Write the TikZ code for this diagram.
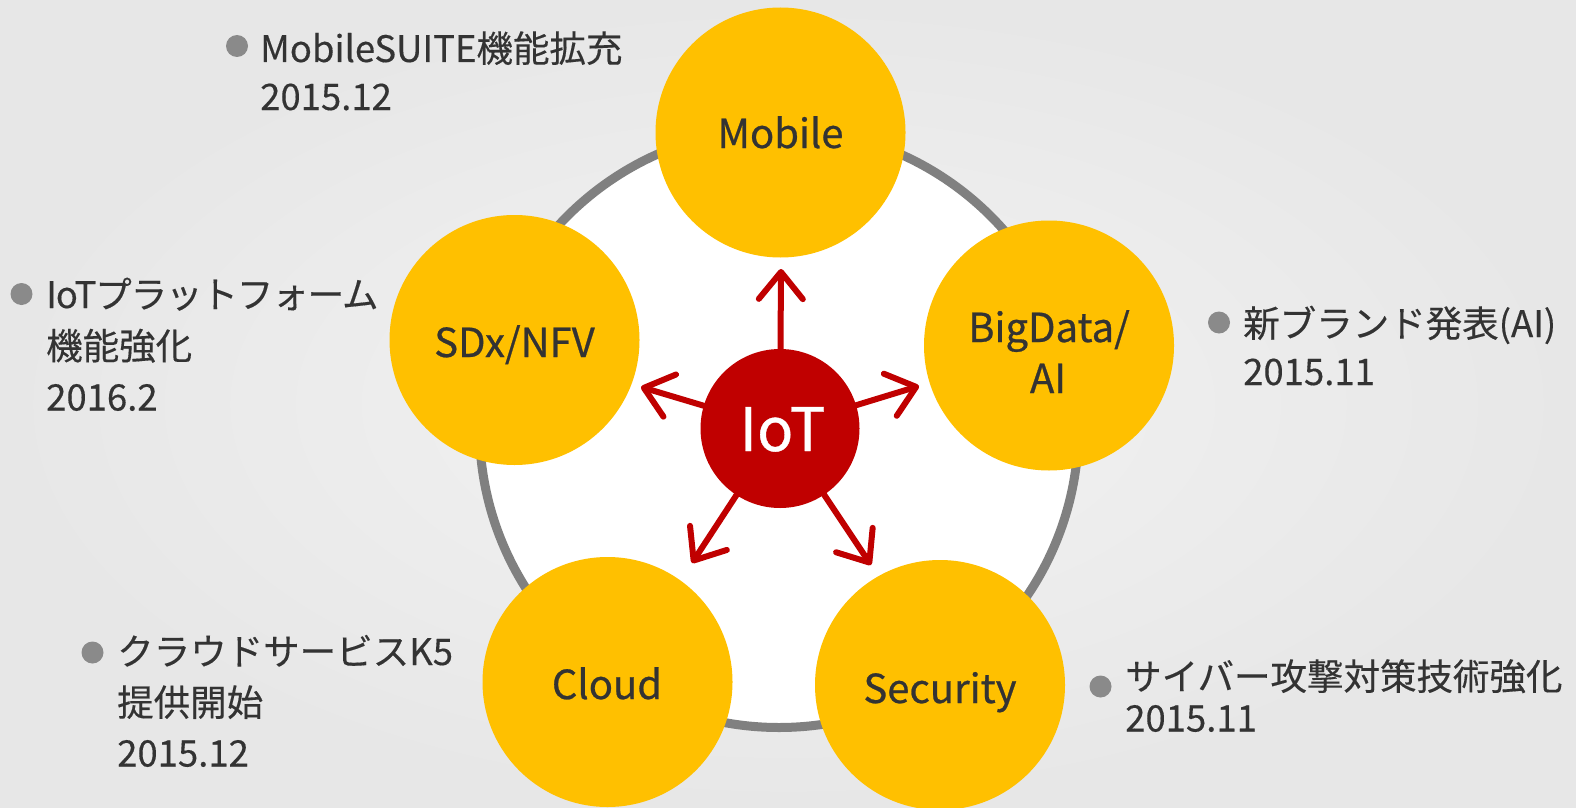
\documentclass[tikz,border=0pt]{standalone}
\usepackage{fontspec}
\setmainfont{Noto Sans CJK JP}
\newfontfamily\lblfont[FakeBold=0.6]{Noto Sans CJK JP}
\newfontfamily\notefont[FakeBold=0.3]{Noto Sans CJK JP}
\newfontfamily\notetightfont[FakeBold=0.3,LetterSpace=-3]{Noto Sans CJK JP}
\usetikzlibrary{arrows.meta}
\definecolor{ringgray}{HTML}{808080}
\definecolor{yel}{HTML}{FFC000}
\definecolor{iotred}{HTML}{C00000}
\definecolor{txt}{HTML}{333333}
\definecolor{bulletgray}{HTML}{8A8A8A}
\definecolor{bgin}{HTML}{F3F3F3}
\definecolor{bgout}{HTML}{E7E7E7}
\begin{document}
\begin{tikzpicture}[x=1pt,y=-1pt,
  topic/.style={circle, fill=yel, minimum size=250pt, inner sep=0pt},
  lbl/.style={text=txt, font=\lblfont\fontsize{40pt}{50pt}\selectfont, anchor=base, inner sep=0pt},
  note/.style={text=txt, font=\notefont\fontsize{36.5pt}{44pt}\selectfont, anchor=base west, inner sep=0pt},
  notetight/.style={note, font=\notetightfont\fontsize{36.5pt}{44pt}\selectfont},
  spoke/.style={draw=iotred, line width=6pt, line cap=round, -{Straight Barb[length=27pt,width=44pt,round]}},
]
\useasboundingbox (0,0) rectangle (1576,808);
\shade[inner color=bgin, outer color=bgout] (0,0) rectangle (1576,808);
% notes
\fill[bulletgray] (237,46) circle[radius=11pt];
\node[note] (n1a) at (260,62) {MobileSUITE機能拡充};
\node[note] (n1b) at (260,110) {2015.12};
\fill[bulletgray] (21.5,294) circle[radius=11pt];
\node[notetight] (n2a) at (46,308) {IoTプラットフォーム};
\node[note] (n2b) at (46,359.5) {機能強化};
\node[note] (n2c) at (46,410.5) {2016.2};
\fill[bulletgray] (1219,322.5) circle[radius=11pt];
\node[note] (n3a) at (1243,337) {新ブランド発表(AI)};
\node[note] (n3b) at (1243,385) {2015.11};
\fill[bulletgray] (1100.5,686.5) circle[radius=11pt];
\node[note] (n4a) at (1125,690) {サイバー攻撃対策技術強化};
\node[note] (n4b) at (1125,731.5) {2015.11};
\fill[bulletgray] (92.5,652.5) circle[radius=11pt];
\node[note] (n5a) at (117,665) {クラウドサービスK5};
\node[note] (n5b) at (117,716) {提供開始};
\node[note] (n5c) at (117,766.5) {2015.12};
% ring
\node[circle, draw=ringgray, line width=9pt, fill=white, minimum size=599pt, inner sep=0pt] (ring) at (779,428) {};
% topic circles
\node[topic] (mobile) at (780.5,132.5) {};
\node[topic] (sdx) at (514.5,340) {};
\node[topic] (bigdata) at (1049,345.5) {};
\node[topic] (cloud) at (607.5,682) {};
\node[topic] (security) at (940,685) {};
\node[lbl] (mobiletxt) at (780.5,148) {Mobile};
\node[lbl] (sdxtxt) at (514.5,357) {SDx/NFV};
\node[lbl] (bigdatatxt1) at (1049,342) {BigData/};
\node[lbl] (bigdatatxt2) at (1048,393) {AI};
\node[lbl] (cloudtxt) at (607,699) {Cloud};
\node[lbl] (securitytxt) at (940,703) {Security};
% IoT hub
\node[circle, fill=iotred, minimum size=159pt, inner sep=0pt] (iot) at (780,428.5) {};
\node[text=white, font=\lblfont\fontsize{60pt}{60pt}\selectfont, anchor=base, inner sep=0pt] (iottxt) at (782.5,451) {IoT};
% spokes
\coordinate (tipU) at (781,269);
\coordinate (tipL) at (641,387);
\coordinate (tipR) at (919,386);
\coordinate (tipDL) at (692,563);
\coordinate (tipDR) at (871,565);
\draw[spoke] (iot) -- (tipU);
\draw[spoke] (iot) -- (tipL);
\draw[spoke] (iot) -- (tipR);
\draw[spoke] (iot) -- (tipDL);
\draw[spoke] (iot) -- (tipDR);
\end{tikzpicture}
\end{document}
